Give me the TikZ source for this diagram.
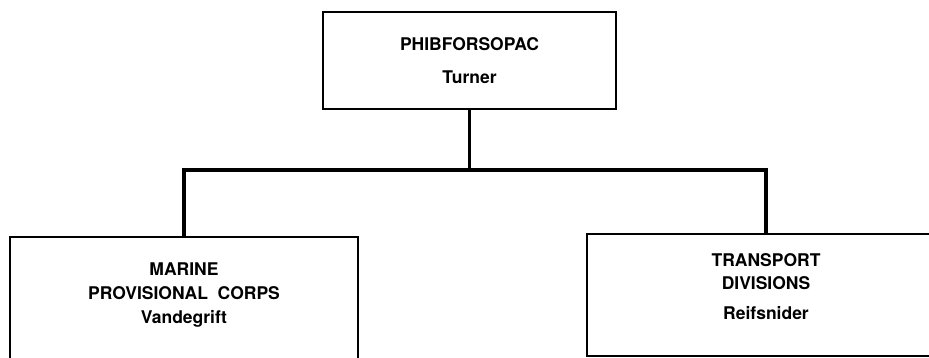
\documentclass[tikz,border=0pt]{standalone}
\usepackage{fontspec}
\setmainfont{TeX Gyre Heros}
\usetikzlibrary{positioning}
\tikzstyle{unit}=[draw, rectangle, line width=2.4pt, inner sep=0pt]
\tikzstyle{caption}=[align=center, inner sep=0pt, font=\bfseries\fontsize{17.5}{23.5}\selectfont]
\tikzstyle{link}=[line width=3.8pt]

\begin{document}
\begin{tikzpicture}[x=1pt,y=-1pt]
            \useasboundingbox (0,0) rectangle (929,357);
            \clip (0,0) rectangle (929,357);

            \node (phib) [unit, caption, minimum width=293pt, minimum height=97pt] at (469.5,60.5) {PHIBFORSOPAC\\[9.5pt]Turner};
            \node (mpc) [unit, minimum width=348pt, minimum height=200pt, anchor=north] at (184,236) {};
            \node (tds) [unit, minimum width=358pt, minimum height=122pt, anchor=north] at (766,233) {};

            \node (mpctext) [caption, below=27pt of mpc.north] {MARINE\\PROVISIONAL\ \ CORPS\\[1pt]Vandegrift};
            \node (tdstext) [caption, below=20pt of tds.north] {TRANSPORT\\DIVISIONS\\[6pt]Reifsnider};

            \coordinate (split) at (469.5,170);
            \draw[link] (phib) -- (split);
            \draw[link] (mpc.north) |- (split) -| (tds.north);
            \end{tikzpicture}
\end{document}
